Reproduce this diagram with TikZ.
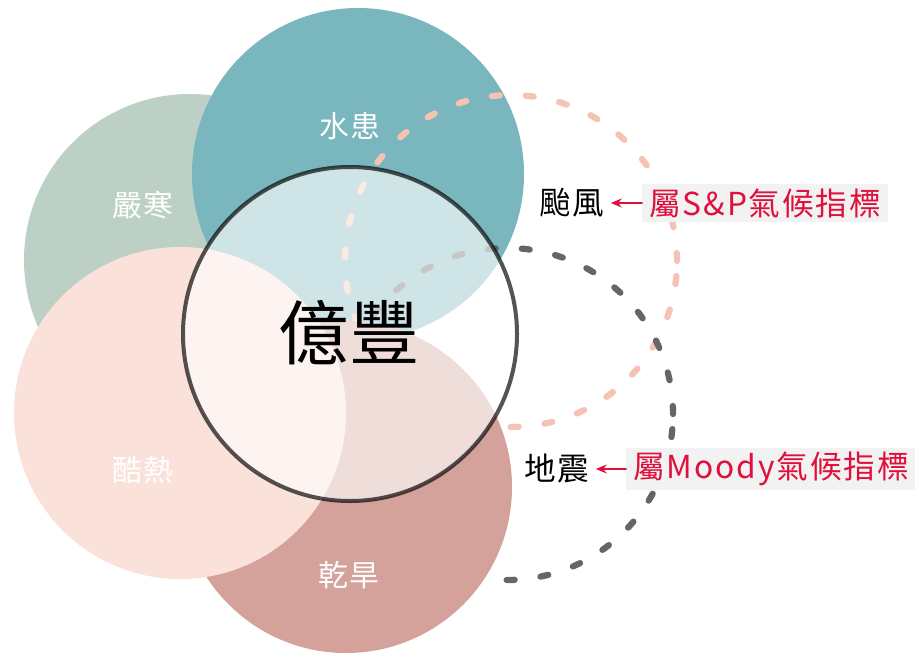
\documentclass[tikz,border=0pt]{standalone}
\usepackage{fontspec}
\setmainfont{Noto Sans CJK TC}
\newfontfamily\spaced[LetterSpace=6]{Noto Sans CJK TC}
\usetikzlibrary{arrows.meta}
\definecolor{frost}{HTML}{BCD0C5}
\definecolor{flood}{HTML}{79B6BD}
\definecolor{heat}{HTML}{FAE1DA}
\definecolor{drought}{HTML}{D4A19B}
\definecolor{sprose}{HTML}{F5C3B3}
\definecolor{moodygrey}{HTML}{666666}
\definecolor{tagred}{HTML}{E0103C}
\definecolor{tagbg}{HTML}{F2F2F2}

\begin{document}
\begin{tikzpicture}[x=0.2mm,y=-0.2mm,line cap=round,
  lbl/.style={text=white,font=\spaced\fontsize{17}{17}\selectfont},
  hazard/.style={font=\spaced\fontsize{18}{18}\selectfont},
  tag/.style={fill=tagbg,text=tagred,font=\spaced\fontsize{18}{18}\selectfont,inner xsep=1.4mm,inner ysep=0.8mm},
  ring/.style={line width=1.25mm,dash pattern=on 1.6mm off 5.2mm}]
  \useasboundingbox (0,0) rectangle (915,653);
  % hazard circles
  \fill[frost] (190,260) circle (33.2mm);
  \fill[flood] (358,174) circle (33.2mm);
  \draw[ring,sprose] (511,261) circle (33.2mm);
  \draw[ring,moodygrey] (507,414) circle (33.2mm);
  \fill[drought] (346,487) circle (33.2mm);
  \fill[heat] (180,413) circle (33.2mm);
  % company
  \fill[white,fill opacity=.64] (350,334) circle (33.4mm);
  \draw[black,opacity=.67,line width=0.8mm] (350,334) circle (33.4mm);
  \node[font=\fontsize{40}{40}\selectfont] (core) at (349,333) {億豐};
  \node[lbl] (cold) at (143,205) {嚴寒};
  \node[lbl] (flood) at (350,126) {水患};
  \node[lbl] (hot) at (143,470) {酷熱};
  \node[lbl] (dry) at (349,575) {乾旱};
  % index tags
  \node[hazard] (typhoon) at (572,203) {颱風};
  \node[tag,anchor=west] (sp) at (642,203) {屬S\&P氣候指標};
  \node[hazard] (quake) at (557,469) {地震};
  \node[tag,anchor=west] (moody) at (626,469) {屬Moody氣候指標};
  \draw[tagred,line width=0.3mm,-{Stealth[length=2.2mm,width=1.8mm]}] (sp) -- (typhoon);
  \draw[tagred,line width=0.3mm,-{Stealth[length=2.2mm,width=1.8mm]}] (moody) -- (quake);
\end{tikzpicture}
\end{document}
